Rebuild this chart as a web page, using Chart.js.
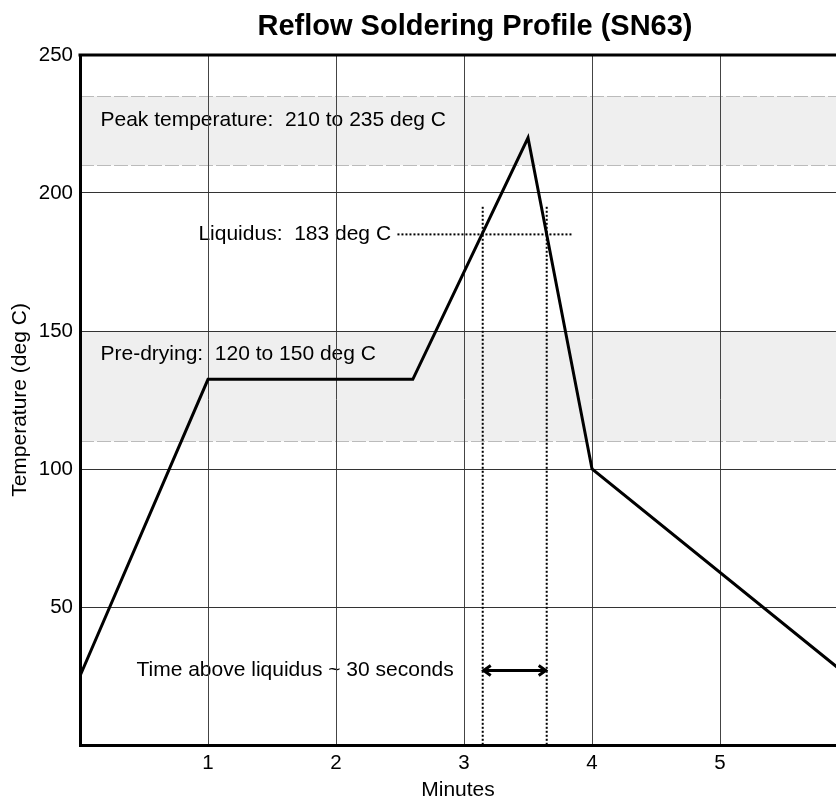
<!DOCTYPE html>
<html>
<head>
<meta charset="utf-8">
<script src="https://cdn.jsdelivr.net/npm/chart.js@4"></script>
<style>
    html, body { margin: 0; padding: 0; background: #fff; }
    #wrap { width: 836px; height: 801px; }
</style>
</head>
<body>
<div id="wrap"><canvas id="reflowChart"></canvas></div>
<script>
// profile
const minutes = [0, 1, 2.6, 3.5, 4, 6];
const temperature = [25, 132.5, 132.5, 220, 100, 25];
const xTicks = [1, 2, 3, 4, 5];
const yTicks = [50, 100, 150, 200, 250];
const xMax = 5.906; // plot is cut off at the right edge

// shaded zones and their captions
const bandRanges = [[210, 235], [110, 150]];
const bandLabels = ["Peak temperature:  210 to 235 deg C", "Pre-drying:  120 to 150 deg C"];
const bandLabelPos = [[0.16, 226.5], [0.16, 141.5]];

// liquidus marker
const liquidusTemp = 185;
const liquidusSpan = [2.48, 3.85];
const liquidusLabel = "Liquidus:  183 deg C";
const liquidusLabelX = 2.43;
const crossMinutes = [3.146, 3.646];
const crossTop = 195;
const arrowTemp = 27;
const arrowLabel = "Time above liquidus ~ 30 seconds";
const arrowLabelX = 2.92;

const FONT = "'Liberation Sans', Arial, sans-serif";

const annotations = {
    id: "annotations",
    beforeDraw(chart) {
        const { ctx, chartArea: a, scales: { x, y } } = chart;
        ctx.save();
        ctx.beginPath();
        ctx.rect(a.left, a.top, a.right - a.left, a.bottom - a.top);
        ctx.clip();
        bandRanges.forEach(([lo, hi]) => {
            const top = y.getPixelForValue(hi);
            const bot = y.getPixelForValue(lo);
            ctx.fillStyle = "#efefef";
            ctx.fillRect(a.left, top, a.right - a.left, bot - top);
            ctx.strokeStyle = "#bbbbbb";
            ctx.lineWidth = 1;
            ctx.setLineDash([14, 3]);
            [top, bot].forEach(py => {
                ctx.beginPath();
                ctx.moveTo(a.left, Math.round(py) + 0.5);
                ctx.lineTo(a.right, Math.round(py) + 0.5);
                ctx.stroke();
            });
        });
        ctx.setLineDash([]);
        ctx.fillStyle = "#000";
        ctx.font = "21px " + FONT;
        ctx.textBaseline = "middle";
        ctx.textAlign = "left";
        bandLabels.forEach((t, i) => {
            ctx.fillText(t, x.getPixelForValue(bandLabelPos[i][0]), y.getPixelForValue(bandLabelPos[i][1]));
        });
        ctx.textAlign = "right";
        ctx.fillText(liquidusLabel, x.getPixelForValue(liquidusLabelX), y.getPixelForValue(liquidusTemp));
        ctx.fillText(arrowLabel, x.getPixelForValue(arrowLabelX), y.getPixelForValue(arrowTemp));
        ctx.restore();
    },
    afterDatasetsDraw(chart) {
        const { ctx, chartArea: a, scales: { x, y } } = chart;
        ctx.save();
        ctx.strokeStyle = "#000";
        ctx.lineWidth = 2;
        ctx.setLineDash([2, 2]);
        const ly = y.getPixelForValue(liquidusTemp);
        ctx.beginPath();
        ctx.moveTo(x.getPixelForValue(liquidusSpan[0]), ly);
        ctx.lineTo(x.getPixelForValue(liquidusSpan[1]), ly);
        ctx.stroke();
        crossMinutes.forEach(m => {
            const px = x.getPixelForValue(m);
            ctx.beginPath();
            ctx.moveTo(px, y.getPixelForValue(crossTop));
            ctx.lineTo(px, a.bottom);
            ctx.stroke();
        });
        // double arrow
        ctx.setLineDash([]);
        ctx.lineWidth = 3;
        const ay = y.getPixelForValue(arrowTemp);
        const x1 = x.getPixelForValue(crossMinutes[0]);
        const x2 = x.getPixelForValue(crossMinutes[1]);
        ctx.beginPath();
        ctx.moveTo(x1, ay);
        ctx.lineTo(x2, ay);
        ctx.moveTo(x1 + 8, ay - 5);
        ctx.lineTo(x1 + 1, ay);
        ctx.lineTo(x1 + 8, ay + 5);
        ctx.moveTo(x2 - 8, ay - 5);
        ctx.lineTo(x2 - 1, ay);
        ctx.lineTo(x2 - 8, ay + 5);
        ctx.stroke();
        ctx.restore();
    },
    afterDraw(chart) {
        const { ctx, chartArea: a } = chart;
        ctx.save();
        ctx.strokeStyle = "#000";
        ctx.lineWidth = 3;
        ctx.beginPath();
        ctx.moveTo(a.left - 1.5, a.top);
        ctx.lineTo(a.right, a.top);
        ctx.stroke();
        ctx.fillStyle = "#000";
        ctx.font = "bold 29px " + FONT;
        ctx.textAlign = "center";
        ctx.textBaseline = "alphabetic";
        ctx.fillText("Reflow Soldering Profile (SN63)", 475, 35);
        ctx.restore();
    }
};

new Chart(document.getElementById("reflowChart"), {
    type: "line",
    data: {
        datasets: [
            {
                data: minutes.map((m, i) => ({ x: m, y: temperature[i] })),
                borderColor: "#000",
                borderWidth: 3,
                borderJoinStyle: "miter",
                pointRadius: 0,
                tension: 0,
                fill: false
            }
        ]
    },
    options: {
        responsive: true,
        maintainAspectRatio: false,
        animation: false,
        layout: { padding: { top: 55, left: 0, right: 0, bottom: 0 } },
        plugins: {
            legend: { display: false },
            tooltip: { enabled: false }
        },
        scales: {
            x: {
                type: "linear",
                min: 0,
                max: xMax,
                afterBuildTicks: (s) => { s.ticks = xTicks.map(v => ({ value: v })); },
                afterFit: (s) => { s.height = 56; },
                grid: { color: "#444", lineWidth: 1, drawTicks: false },
                border: { color: "#000", width: 3 },
                ticks: { color: "#000", padding: 6, maxRotation: 0, font: { family: FONT, size: 20.5 } },
                title: {
                    display: true,
                    text: "Minutes",
                    color: "#000",
                    padding: 0,
                    font: { family: FONT, size: 21, lineHeight: 1 }
                }
            },
            y: {
                min: 0,
                max: 250,
                afterBuildTicks: (s) => { s.ticks = yTicks.map(v => ({ value: v })); },
                afterFit: (s) => { s.width = 80; },
                grid: { color: "#333", lineWidth: 1, drawTicks: false },
                border: { color: "#000", width: 3 },
                ticks: { color: "#000", padding: 7, font: { family: FONT, size: 20.5 } },
                title: {
                    display: true,
                    text: "Temperature (deg C)",
                    color: "#000",
                    padding: { top: 8, bottom: 0 },
                    font: { family: FONT, size: 21 }
                }
            }
        }
    },
    plugins: [annotations]
});
</script>
</body>
</html>
